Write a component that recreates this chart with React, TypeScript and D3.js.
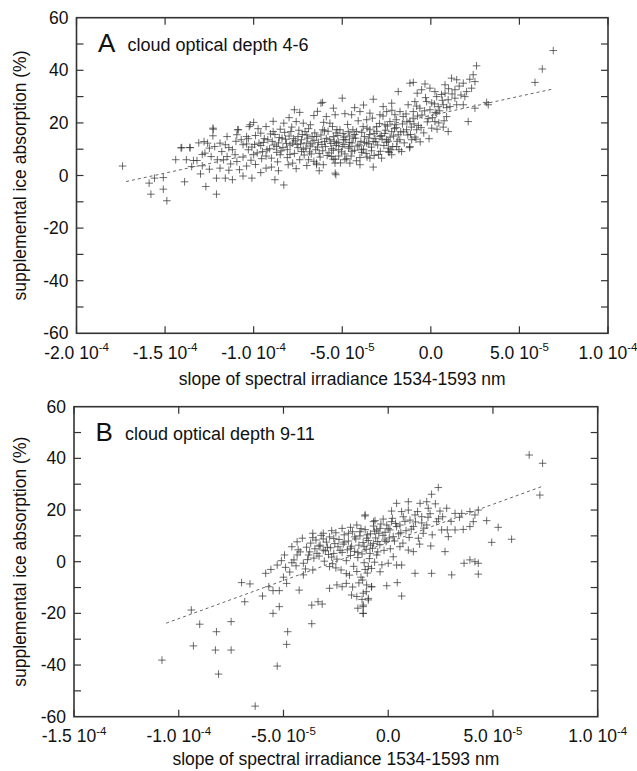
import React from "react";
import * as d3 from "d3";

// x values are in units of 1e-5 (slope of spectral irradiance), y in %
const panelAPoints: [number, number][] = [
  [-17.4,3.6],[-15.9,-2.9],[-15.8,-7.1],[-15.6,-1.0],[-15.1,-0.8],[-15.1,-5.2],[-14.9,-9.6],[-14.1,10.5],[-13.6,10.6],[-13.9,-2.4],
  [-13.8,6.0],[-13.4,5.7],[-13.2,5.7],[-12.9,3.7],[-13.5,3.4],[-12.7,-4.2],[-12.1,-7.1],[-12.8,12.9],[-12.6,12.3],[-12.3,18.0],
  [-12.3,15.1],[-12.5,10.4],[-12.75,8.5],[-12.4,7.2],[-12.05,6.0],[-11.9,12.3],[-11.8,9.1],[-11.5,14.8],[-11.6,11.7],[-11.5,7.2],
  [-11.9,2.8],[-12.1,-1.0],[-11.6,-1.0],[-11.2,-1.6],[-10.9,17.4],[-10.95,15.5],[-11.2,9.8],[-11.05,7.9],[-10.95,5.3],[-11.3,4.4],
  [-10.8,2.2],[-10.6,-0.2],[-10.1,-1.0],[-9.6,1.1],[-9.3,2.8],[-8.8,-1.6],[-8.3,-3.6],[-10.7,13.6],[-10.6,11.7],[-10.4,14.8],
  [-10.2,19.3],[-10.0,20.2],[-10.3,9.8],[-10.0,7.9],[-9.7,12.3],[-9.6,16.1],[-9.5,9.1],[-9.3,18.6],[-9.2,13.6],[-9.0,6.6],
  [-8.9,16.7],[-8.7,11.0],[-8.5,7.9],[-8.4,14.2],[-8.3,19.9],[-8.1,9.8],[-8.05,4.1],[-7.9,16.7],[-7.8,4.7],[-7.8,12.3],
  [-7.7,25.0],[-7.4,24.0],[-7.6,20.5],[-7.5,14.8],[-7.3,9.1],[-7.2,19.9],[-7.1,16.7],[-7.0,12.3],[-6.9,6.0],[-6.8,19.3],
  [-6.7,14.8],[-6.5,9.8],[-6.45,4.1],[-6.2,27.5],[-6.1,17.4],[-6.0,12.9],[-5.9,22.4],[-5.7,19.9],[-5.6,7.2],[-5.5,14.8],
  [-5.4,0.9],[-5.3,17.4],[-5.2,9.8],[-5.4,23.1],
  [-10.4,12.0],[-10.1,10.8],[-9.9,15.2],[-9.8,8.6],[-9.6,11.4],[-9.4,14.0],[-9.3,7.4],[-9.1,10.2],[-8.95,13.0],[-8.8,15.6],
  [-8.7,8.8],[-8.6,12.4],[-8.5,17.6],[-8.35,10.6],[-8.2,13.8],[-8.1,6.8],[-8.0,15.0],[-7.95,11.6],[-7.85,18.4],[-7.7,8.4],
  [-7.65,13.2],[-7.5,10.6],[-7.45,17.2],[-7.35,12.0],[-7.25,15.6],[-7.15,7.8],[-7.05,10.4],[-6.95,14.2],[-6.9,17.8],[-6.8,11.2],
  [-6.75,8.2],[-6.6,13.4],[-6.55,16.2],[-6.4,10.8],[-6.35,12.6],[-6.25,7.0],[-6.2,15.4],[-6.1,9.4],[-6.05,20.2],[-5.95,11.0],
  [-5.9,14.0],[-5.8,16.8],[-5.75,8.6],[-5.65,12.2],[-5.6,10.2],[-5.55,18.6],[-5.45,13.0],[-5.4,6.2],[-5.35,11.4],[-5.25,15.2],
  [-5.2,12.6],[-5.1,4.8],[-5.05,9.0],[-4.95,16.0],[-4.9,11.8],[-4.85,8.2],[-4.8,13.6],[-4.7,19.4],[-4.65,10.4],[-4.6,15.0],
  [-4.5,7.4],[-4.45,12.4],[-4.4,17.4],[-4.3,9.6],[-4.25,14.2],[-4.15,11.2],[-4.1,20.8],[-4.0,6.8],[-3.95,13.0],[-3.9,16.4],
  [-3.8,10.0],[-3.75,14.8],[-3.65,8.4],[-3.6,18.0],[-3.5,12.0],[-3.45,15.6],[-3.35,10.8],[-3.3,21.8],[-3.2,7.6],[-3.15,14.0],
  [-3.05,16.8],[-3.0,11.6],[-2.9,19.8],[-2.85,9.2],[-2.75,13.8],[-2.7,22.6],[-2.6,16.0],[-2.5,12.6],[-2.45,18.8],[-2.35,8.8],
  [-2.3,14.6],[-2.2,24.8],[-2.15,11.0],[-2.05,17.8],[-1.95,21.2],[-1.9,13.0],[-1.8,9.8],[-1.7,16.6],[-1.6,19.6],[-1.5,12.4],
  [-1.4,23.4],[-1.3,15.4],[-1.2,10.6],[-1.1,18.4],[-1.0,21.8],[-0.9,14.6],[-0.8,26.4],[-0.7,19.0],[-0.6,12.8],[-0.5,23.0],
  [-0.4,16.2],[-0.3,29.6],[-0.2,20.4],[-0.1,14.0],[0.1,22.0],[0.2,27.2],[0.35,17.6],[0.5,24.6],[0.6,30.8],[0.75,20.8],[0.9,25.8],
  [-5.5,25.6],[-5.0,29.4],[-3.25,29.0],[-1.84,31.9],[-1.18,35.1],[-0.99,35.4],[-0.33,34.8],[-0.05,33.2],[0.8,34.5],[1.17,37.0],
  [1.46,36.4],[1.36,32.6],[1.83,35.1],[2.02,31.9],[2.39,38.3],[2.58,41.7],[2.49,35.7],[2.3,33.2],[1.92,30.0],[1.83,26.9],
  [2.11,20.5],[2.49,25.6],[3.15,27.8],[3.24,26.9],[5.88,35.4],[6.29,40.5],[6.91,47.5],[0.7,26.9],[0.98,28.8],[0.89,22.4],
  [0.98,16.7],[0.7,18.4],[0.33,23.7],[0.23,20.5],[0.05,18.0],[-0.05,25.0],[-0.24,28.1],[-0.62,25.6],[-0.77,31.3],[-0.9,28.1],
  [-0.99,24.3],[-1.18,20.5],[-0.8,17.4],[-1.08,13.6],[-0.84,13.8],[-1.18,11.0],[-1.37,17.4],[-1.56,22.4],[-1.74,24.3],[-2.03,23.1],
  [-2.31,20.5],[-2.49,24.3],[-2.69,26.2],[-2.21,27.5],[-2.87,23.1],[-3.06,18.6],[-3.44,23.7],[-3.62,21.2],[-4.0,24.3],[-4.47,23.1],
  [-4.85,23.5],[-2.03,19.3],[-1.84,15.5],[-2.21,16.7],[-2.49,13.6],[-2.87,14.8],[-3.25,12.9],[-3.44,17.4],[-3.82,18.6],[-4.19,16.7],
  [-4.38,14.2],[-4.66,16.7],[-5.13,17.4],[-4.94,13.6],[-5.32,12.3],[-4.57,11.0],[-3.91,9.8],[-3.62,12.3],[-2.4,10.4],[-1.93,11.0],
  [-1.65,9.1],[-2.21,7.9],[-2.78,6.6],[-3.25,3.2],[-4.0,4.1],[-4.57,4.7],[-4.85,6.0],[-5.36,0.3],[-5.41,4.7],[-3.44,6.6],
  [-2.4,9.1],[-2.59,19.3],[-1.28,26.9],[-0.52,32.6],[0.23,31.9],[0.33,30.0],[0.8,31.3],[1.36,29.4],[1.46,26.9],[1.08,26.2],
  [0.42,26.2],[-6.11,27.8],[-6.45,4.7],[-6.07,4.1],[-5.51,6.2],[-10.87,17.4],[-10.25,18.6],[-12.28,17.6],[-14.06,10.6],[-13.59,10.6],
  [-10.6,7.0],[-10.3,14.0],[-10.15,5.8],[-9.95,11.8],[-9.75,17.8],[-9.55,6.4],[-9.45,12.6],[-9.25,9.8],[-9.05,15.8],[-8.85,11.6],
  [-8.65,5.2],[-8.55,14.4],[-8.45,9.4],[-8.25,16.4],[-8.15,12.2],[-7.95,8.0],[-7.75,14.0],[-7.55,11.8],[-7.4,6.0],[-7.3,13.6],
  [-7.2,10.0],[-7.0,15.4],[-6.85,9.0],[-6.7,12.0],[-6.6,5.4],[-6.45,14.8],[-6.3,8.4],[-6.15,11.8],[-6.0,17.0],[-5.85,7.6],
  [-5.7,13.6],[-5.5,9.6],[-5.35,16.2],[-5.2,7.4],[-5.0,11.0],[-4.9,14.6],[-4.75,6.4],[-4.6,12.6],[-4.45,9.2],[-4.3,15.6],
  [-4.2,5.6],[-4.05,11.6],[-3.9,8.8],[-3.75,12.6],[-3.6,7.0],[-3.5,14.2],[-3.35,9.4],[-3.2,16.0],[-3.1,12.8],[-2.95,8.0],
  [-2.8,15.2],[-2.65,11.4],[-2.55,17.2],[-2.4,13.0],[-2.25,9.8],[-2.1,15.0],[-1.95,18.2],[-1.75,13.6],[-1.55,16.6],[-1.35,20.4],
  [-1.15,15.6],[-0.95,19.6],[-0.75,22.6],[-0.55,18.2],[-0.35,24.6],[-0.15,21.6],[0.05,27.6],[0.25,24.0],[0.45,20.0],[0.65,28.6],
  [1.0,33.0],[1.2,31.0],[1.6,34.0],[1.7,30.6],[2.2,36.6],[-11.4,10.6],[-11.7,6.0],[-12.2,11.0],[-12.9,8.0],[-11.0,13.0],
  [-13.1,12.4],[-14.4,6.0],[-13.0,0.6],[-12.5,2.4],[-11.4,2.0],[-10.4,3.6],[-9.9,4.2],[-9.0,3.2],[-8.6,1.8],[-7.6,2.6],
  [-7.0,3.8],[-6.3,1.8],[-8.9,20.6],[-8.0,22.0],[-6.6,22.8],[-6.4,24.4],[-4.3,25.8],[-3.8,26.8]
];

const panelBPoints: [number, number][] = [
  [-10.8,-38.1],[-9.4,-18.7],[-9.0,-24.2],[-9.3,-32.6],[-8.2,-27.1],[-8.25,-34.2],[-7.5,-23.2],[-7.5,-34.2],[-8.1,-43.5],[-7.0,-8.1],
  [-6.6,-8.6],[-6.85,-15.5],[-6.35,-55.9],[-6.0,-13.3],[-5.85,-4.5],[-5.7,-9.7],[-5.5,-11.2],[-5.2,-11.2],[-5.5,-20.0],[-5.2,-17.4],
  [-5.3,-40.4],[-4.8,-27.1],[-4.85,-32.0],[-5.3,-1.3],[-4.9,-2.2],[-4.95,2.6],[-4.6,5.8],[-4.35,7.7],[-4.1,9.1],[-3.6,9.3],
  [-4.85,-8.4],[-4.25,-11.0],[-4.05,-5.1],[-4.5,0.7],[-4.35,2.6],[-3.65,-24.0],[-3.65,-16.8],[-3.35,-15.5],[-3.15,-16.4],[-3.6,-3.2],
  [-4.05,-0.6],[-3.8,2.6],[-3.4,3.2],[-3.1,4.5],[-2.8,-1.9],[-2.8,-10.3],[-2.45,-9.0],[-2.2,-9.7],[-2.0,-8.4],[-1.75,-12.9],
  [-1.5,-13.5],[-1.45,-18.0],[-1.2,-20.0],[-1.2,-17.4],[-0.95,-14.8],[-1.05,-11.6],[-0.8,-9.7],[-1.1,18.1],[-3.1,11.0],[-2.7,12.0],
  [-2.2,12.9],[-1.8,13.3],[-1.5,14.2],[-1.35,11.6],[-0.7,15.5],[-0.55,12.3],
  [6.73,41.3],[7.37,38.1],[7.24,25.8],[2.39,28.7],[2.07,26.1],[1.84,23.2],[1.91,20.7],[1.52,22.6],[0.96,23.2],[0.4,22.6],
  [2.47,19.6],[2.79,20.7],[3.19,18.7],[3.51,18.7],[3.9,19.4],[4.3,20.0],[4.14,18.1],[4.06,15.5],[3.9,13.6],[3.58,12.5],
  [3.19,12.3],[4.7,15.9],[5.25,13.3],[5.89,8.7],[4.94,7.5],[4.3,-0.6],[4.14,0],[3.9,0.7],[3.62,-0.6],[4.3,-4.8],
  [3.03,-5.1],[2.07,-4.5],[1.28,-4.5],[0.64,-13.3],[0.43,-8.1],[-0.07,-9.3],[2.71,3.9],[2.87,9.7],[2.82,12.3],[2.55,12.3],
  [2.03,6.1],[1.44,9.1],[1.67,11.0],[0.96,4.5],[1.2,3.9],[0.56,5.8],[0.24,1.9],[0.4,-1.3],[0.64,-1.3],[0.0,-0.6],
  [-0.39,-3.9],[-1.11,17.7],[-0.63,15.9],[-0.24,16.5],[0.16,19.6],[0.64,19.4],[0.96,20.0],[1.28,18.1],[1.6,17.4],[0.56,14.2],
  [0.16,15.5],[-0.39,12.9],[0.08,12.3],[0.4,13.6],[0.24,9.7],[-0.16,8.4],[-0.71,7.1],[-1.03,9.1],[-0.87,3.2],[-0.55,2.6],
  [-0.95,-1.9],[-1.22,-7.1],[-1.03,-9.0],[-0.79,-9.7],[-1.19,-12.2],[-0.95,-14.2],[-1.19,-16.8],[-1.19,-20.0],[2.31,15.5],[1.84,14.2],
  [1.04,16.1],[1.2,13.6],[-0.07,14.2],[0.72,17.4],
  [-3.9,5.6],[-3.75,3.8],[-3.7,7.2],[-3.55,1.4],[-3.5,5.0],[-3.45,8.4],[-3.3,2.2],[-3.25,6.4],[-3.2,10.2],[-3.05,0.2],
  [-3.0,4.2],[-2.95,7.6],[-2.85,2.8],[-2.8,9.6],[-2.75,5.4],[-2.65,-0.8],[-2.6,3.2],[-2.55,7.0],[-2.5,11.2],[-2.45,1.0],
  [-2.4,5.8],[-2.35,8.6],[-2.25,-3.2],[-2.2,3.6],[-2.15,6.8],[-2.1,10.4],[-2.0,0.4],[-1.95,4.6],[-1.9,8.0],[-1.85,-5.2],
  [-1.8,2.4],[-1.75,6.0],[-1.7,11.6],[-1.65,-1.8],[-1.6,4.0],[-1.55,8.8],[-1.5,-3.8],[-1.45,1.6],[-1.4,6.4],[-1.35,10.0],
  [-1.3,-6.0],[-1.25,3.0],[-1.2,7.4],[-1.15,-0.4],[-1.1,12.4],[-1.05,4.8],[-1.0,-4.4],[-0.95,8.2],[-0.9,1.2],[-0.85,10.8],
  [-0.8,-2.6],[-0.75,5.2],[-0.7,13.8],[-0.65,-0.2],[-0.6,9.2],[-0.5,3.8],[-0.45,11.0],[-0.4,6.6],[-0.3,-1.2],[-0.25,10.2],
  [-0.2,4.4],[-0.1,7.8],[0.0,12.8],[0.1,5.0],[0.2,16.8],[0.3,8.0],[0.5,10.8],[0.7,7.2],[0.85,12.0],[1.0,9.4],
  [1.3,15.4],[1.5,6.8],[1.7,13.0],[1.9,17.2],[2.1,10.4],[2.25,22.4],[2.4,16.6],
  [-5.6,-3.0],[-5.0,-6.0],[-4.7,-4.0],[-4.4,-1.6],[-4.2,3.8],[-3.95,-2.8],[-3.85,0.8],
  [-3.6,11.0],[-3.3,6.0],[-3.1,8.8],[-2.9,5.6],[-2.7,1.8],[-2.6,9.0],[-2.3,4.4],[-2.1,7.6],[-1.9,11.0],[-1.8,5.2],
  [-1.6,9.6],[-1.45,3.6],[-1.3,12.8],[-1.15,5.8],[-1.0,10.4],[-0.85,6.4],[-0.65,11.8],[-0.5,7.8],[-0.35,14.6],[-0.15,11.4],
  [0.05,9.2],[0.35,14.8],[0.6,11.2],[0.8,15.6],[1.1,12.6],[1.4,19.4],[1.6,15.0],[2.0,18.6],[2.6,17.4],[3.0,15.6],
  [3.4,17.2],[-4.6,-0.4],[-4.3,4.6],[-5.1,0.4],[-2.5,-2.4],[-2.0,-4.6],[-1.7,-9.8],[-1.4,-8.2],[-1.25,-14.6],[-1.1,-3.0]
];

// regression (dashed) lines: endpoints
const fitAX = [-17.2, 6.9];
const fitAY = [-2.3, 32.9];
const fitBX = [-10.6, 7.4];
const fitBY = [-23.8, 29.3];

const yTickValues = [-60, -40, -20, 0, 20, 40, 60];
const yMinorValues = [-50, -40, -30, -20, -10, 0, 10, 20, 30, 40, 50];

const xTicksA = [-20, -15, -10, -5, 0, 5, 10];
const xTickMantA = ["-2.0", "-1.5", "-1.0", "-5.0", "0.0", "5.0", "1.0"];
const xTickExpA = ["-4", "-4", "-4", "-5", "", "-5", "-4"];

const xTicksB = [-15, -10, -5, 0, 5, 10];
const xTickMantB = ["-1.5", "-1.0", "-5.0", "0.0", "5.0", "1.0"];
const xTickExpB = ["-4", "-4", "-5", "", "-5", "-4"];

const xTitle = "slope of spectral irradiance 1534-1593 nm";
const yTitle = "supplemental ice absorption (%)";

const FONT = "'Liberation Sans', Arial, Helvetica, sans-serif";

type PanelProps = {
  points: [number, number][];
  fitX: number[];
  fitY: number[];
  xTicks: number[];
  xMant: string[];
  xExp: string[];
  xDomain: [number, number];
  left: number;
  right: number;
  top: number;
  bottom: number;
  titleOffset: number;
  letter: string;
  subtitle: string;
};

function Panel(p: PanelProps) {
  const x = d3.scaleLinear().domain(p.xDomain).range([p.left, p.right]);
  const y = d3.scaleLinear().domain([-60, 60]).range([p.bottom, p.top]);
  const line = d3
    .line<number>()
    .x((_, i) => x(p.fitX[i]))
    .y((_, i) => y(p.fitY[i]));
  const tl = 7;
  const arm = 3.8;
  const axisColor = "#333";
  return (
    <g fontFamily={FONT}>
      <g stroke="#333" strokeWidth={0.9} strokeOpacity={0.8}>
        {p.points.map((d, i) => {
          const cx = x(d[0]);
          const cy = y(d[1]);
          return (
            <path
              key={i}
              d={`M${cx - arm},${cy}H${cx + arm}M${cx},${cy - arm}V${cy + arm}`}
            />
          );
        })}
      </g>
      <path
        d={line(p.fitX) || ""}
        fill="none"
        stroke="#666"
        strokeWidth={1}
        strokeDasharray="3,3"
      />
      <rect
        x={p.left}
        y={p.top}
        width={p.right - p.left}
        height={p.bottom - p.top}
        fill="none"
        stroke={axisColor}
        strokeWidth={1.6}
      />
      {p.xTicks.map((t, i) => (
        <g key={"xt" + i}>
          <line x1={x(t)} x2={x(t)} y1={p.bottom} y2={p.bottom - tl} stroke={axisColor} strokeWidth={1.2} />
          <line x1={x(t)} x2={x(t)} y1={p.top} y2={p.top + tl} stroke={axisColor} strokeWidth={1.2} />
          <text x={x(t)} y={p.bottom + 25.5} textAnchor="middle" fontSize={17.5} fill="#111">
            {p.xMant[i]}
            {p.xExp[i] ? (
              <>
                <tspan>{" 10"}</tspan>
                <tspan dy={-7.5} fontSize={11.5}>{p.xExp[i]}</tspan>
              </>
            ) : null}
          </text>
        </g>
      ))}
      {yMinorValues.map((v, i) => (
        <g key={"ym" + i}>
          <line x1={p.left} x2={p.left + tl} y1={y(v)} y2={y(v)} stroke={axisColor} strokeWidth={1.2} />
          <line x1={p.right} x2={p.right - tl} y1={y(v)} y2={y(v)} stroke={axisColor} strokeWidth={1.2} />
        </g>
      ))}
      {yTickValues.map((v, i) => (
        <text key={"yl" + i} x={p.left - 8} y={y(v) + 6} textAnchor="end" fontSize={17.5} fill="#111">
          {String(v)}
        </text>
      ))}
      <text x={(p.left + p.right) / 2} y={p.bottom + p.titleOffset} textAnchor="middle" fontSize={17.5} fill="#111">
        {xTitle}
      </text>
      <text
        transform={`translate(26,${(p.top + p.bottom) / 2}) rotate(-90)`}
        textAnchor="middle"
        fontSize={17.5}
        fill="#111"
      >
        {yTitle}
      </text>
      <text x={p.left + 21.5} y={p.top + 34} fontSize={26} fill="#111">
        {p.letter}
      </text>
      <text x={p.left + 51} y={p.top + 33} fontSize={18} fill="#111">
        {p.subtitle}
      </text>
    </g>
  );
}

export default function App() {
  return (
    <svg
      width={637}
      height={771}
      style={{ position: "absolute", left: 0, top: 0, background: "#fff" }}
    >
      <rect width={637} height={771} fill="#fff" />
      <Panel
        points={panelAPoints}
        fitX={fitAX}
        fitY={fitAY}
        xTicks={xTicksA}
        xMant={xTickMantA}
        xExp={xTickExpA}
        xDomain={[-20, 10]}
        left={76.5}
        right={608}
        top={17.7}
        bottom={333.3}
        titleOffset={52}
        letter="A"
        subtitle="cloud optical depth 4-6"
      />
      <Panel
        points={panelBPoints}
        fitX={fitBX}
        fitY={fitBY}
        xTicks={xTicksB}
        xMant={xTickMantB}
        xExp={xTickExpB}
        xDomain={[-15, 10]}
        left={74}
        right={597.7}
        top={406.7}
        bottom={716.7}
        titleOffset={48.5}
        letter="B"
        subtitle="cloud optical depth 9-11"
      />
    </svg>
  );
}
